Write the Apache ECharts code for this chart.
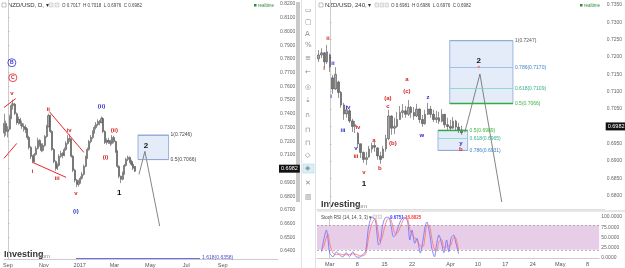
<!DOCTYPE html>
<html>
<head>
<meta charset="utf-8">
<script src="https://cdn.jsdelivr.net/npm/echarts@6/dist/echarts.min.js"></script>
<style>
  html, body { margin: 0; padding: 0; background: #fff; }
  #chart { width: 625px; height: 268px; }
</style>
</head>
<body>
<div id="chart"></div>
<script>
// daily chart: x = calendar days since 1 Sep 2016
const dailyDays = [-6,-3,0,3,6,9,12,15,18,21,24,27,30,33,36,39,42,45,48,51,54,57,60,63,66,69,72,75,78,81,84,87,90,93,96,99,102,105,108,111,114,117,120,123,126,129,132,135,138,141,144,147,150,153,156,159,162,165,168,171,174,177,180,183,186,189,192,195,198,201,204,207,210,213,216];
// [open, close, low, high]
const dailyOHLC = [
  [0.7260,0.7330,0.7230,0.7400],[0.7330,0.7271,0.7240,0.7350],[0.7271,0.7286,0.7228,0.7310],[0.7290,0.7373,0.7280,0.7390],
  [0.7373,0.7460,0.7360,0.7475],[0.7460,0.7474,0.7430,0.7503],[0.7470,0.7402,0.7390,0.7480],[0.7400,0.7336,0.7320,0.7410],
  [0.7336,0.7358,0.7320,0.7380],[0.7358,0.7329,0.7310,0.7370],[0.7330,0.7307,0.7290,0.7350],[0.7307,0.7300,0.7270,0.7330],
  [0.7300,0.7286,0.7260,0.7320],[0.7286,0.7228,0.7210,0.7295],[0.7228,0.7155,0.7140,0.7240],[0.7155,0.7090,0.7070,0.7165],
  [0.7090,0.7053,0.7040,0.7100],[0.7053,0.7104,0.7045,0.7115],[0.7104,0.7148,0.7095,0.7165],[0.7148,0.7206,0.7140,0.7225],
  [0.7206,0.7177,0.7160,0.7215],[0.7177,0.7133,0.7120,0.7185],[0.7133,0.7170,0.7125,0.7185],[0.7170,0.7235,0.7160,0.7245],
  [0.7235,0.7307,0.7225,0.7320],[0.7307,0.7387,0.7300,0.7400],[0.7387,0.7271,0.7260,0.7395],[0.7271,0.7140,0.7130,0.7280],
  [0.7140,0.7053,0.7040,0.7150],[0.7053,0.7003,0.6985,0.7060],[0.7003,0.7024,0.6990,0.7040],[0.7024,0.7090,0.7015,0.7105],
  [0.7090,0.7111,0.7080,0.7130],[0.7111,0.7097,0.7075,0.7120],[0.7097,0.7140,0.7090,0.7155],[0.7140,0.7184,0.7130,0.7200],
  [0.7184,0.7220,0.7175,0.7245],[0.7220,0.7213,0.7195,0.7250],[0.7213,0.7090,0.7080,0.7220],[0.7090,0.6988,0.6975,0.7100],
  [0.6988,0.6916,0.6900,0.7000],[0.6916,0.6886,0.6865,0.6925],[0.6886,0.6901,0.6870,0.6920],[0.6901,0.6930,0.6890,0.6945],
  [0.6930,0.6959,0.6920,0.6975],[0.6959,0.7017,0.6950,0.7030],[0.7017,0.7082,0.7010,0.7095],[0.7082,0.7140,0.7070,0.7155],
  [0.7140,0.7198,0.7130,0.7210],[0.7198,0.7228,0.7185,0.7245],[0.7228,0.7264,0.7215,0.7280],[0.7264,0.7300,0.7255,0.7315],
  [0.7300,0.7322,0.7285,0.7340],[0.7322,0.7344,0.7310,0.7360],[0.7344,0.7336,0.7315,0.7355],[0.7336,0.7365,0.7330,0.7380],
  [0.7365,0.7271,0.7260,0.7375],[0.7271,0.7191,0.7180,0.7280],[0.7191,0.7206,0.7175,0.7220],[0.7206,0.7198,0.7180,0.7225],
  [0.7198,0.7184,0.7165,0.7210],[0.7184,0.7228,0.7175,0.7245],[0.7228,0.7198,0.7185,0.7240],[0.7198,0.7126,0.7115,0.7205],
  [0.7126,0.7017,0.7005,0.7135],[0.7017,0.6944,0.6930,0.7025],[0.6944,0.6923,0.6895,0.6950],[0.6923,0.6966,0.6915,0.6980],
  [0.6966,0.7024,0.6955,0.7035],[0.7024,0.7068,0.7015,0.7080],[0.7068,0.7082,0.7055,0.7095],[0.7082,0.7053,0.7040,0.7090],
  [0.7053,0.7032,0.7020,0.7065],[0.7032,0.7003,0.6990,0.7040],[0.7017,0.6982,0.6976,0.7018]
];

// 4H chart: x = trading days since 1 Mar 2017
const h4Days = [-2,-1.5,-1,-0.5,0,0.5,1,1.5,2,2.5,3,3.5,4,4.5,5,5.5,6,6.5,7,7.5,8,8.5,9,9.5,10,10.5,11,11.5,12,12.5,13,13.5,14,14.5,15,15.5,16,16.5,17,17.5,18,18.5,19,19.5,20,20.5,21,21.5,22,22.5,23,23.5];
const h4OHLC = [
  [0.7195,0.7206,0.7186,0.7220],[0.7206,0.7212,0.7197,0.7225],[0.7212,0.7186,0.7169,0.7214],[0.7186,0.7215,0.7180,0.7235],
  [0.7206,0.7172,0.7157,0.7210],[0.7140,0.7108,0.7094,0.7148],[0.7108,0.7150,0.7105,0.7171],[0.7128,0.7098,0.7082,0.7132],
  [0.7098,0.7062,0.7054,0.7102],[0.7062,0.7036,0.7019,0.7068],[0.7036,0.7048,0.7025,0.7059],[0.7045,0.7016,0.7010,0.7050],
  [0.7016,0.7000,0.6984,0.7022],[0.7000,0.7005,0.6981,0.7016],[0.6980,0.6950,0.6938,0.6984],[0.6950,0.6925,0.6909,0.6950],
  [0.6925,0.6905,0.6895,0.6928],[0.6905,0.6910,0.6889,0.6927],[0.6912,0.6935,0.6910,0.6944],[0.6935,0.6945,0.6924,0.6953],
  [0.6945,0.6940,0.6927,0.6956],[0.6938,0.6915,0.6904,0.6940],[0.6915,0.6905,0.6892,0.6927],[0.6909,0.6935,0.6909,0.6944],
  [0.6935,0.6965,0.6927,0.6976],[0.6965,0.7030,0.6960,0.7048],[0.7030,0.6995,0.6976,0.7032],[0.6995,0.7000,0.6978,0.7025],
  [0.7000,0.7020,0.6996,0.7042],[0.7020,0.7040,0.7019,0.7059],[0.7040,0.7045,0.7025,0.7065],[0.7045,0.7035,0.7025,0.7059],
  [0.7035,0.7055,0.7030,0.7076],[0.7055,0.7040,0.7025,0.7059],[0.7040,0.7030,0.7019,0.7056],[0.7030,0.7050,0.7027,0.7065],
  [0.7050,0.7020,0.7010,0.7052],[0.7020,0.7008,0.6999,0.7033],[0.7008,0.7035,0.7005,0.7048],[0.7035,0.7050,0.7033,0.7068],
  [0.7050,0.7035,0.7025,0.7059],[0.7035,0.7020,0.7013,0.7048],[0.7020,0.7025,0.7010,0.7045],[0.7025,0.7015,0.7007,0.7042],
  [0.7015,0.7035,0.7012,0.7050],[0.7035,0.7005,0.6996,0.7036],[0.7005,0.7000,0.6990,0.7025],[0.7000,0.6995,0.6987,0.7019],
  [0.6995,0.7015,0.6993,0.7027],[0.7015,0.6998,0.6987,0.7019],[0.6998,0.6990,0.6981,0.7010],[0.6990,0.6982,0.6976,0.7002]
];

// Stoch RSI (14,14,3,3)
const stochDays = [-1.5,-1.1,-0.6,-0.3,0,0.6,1.2,1.8,2.4,3.0,3.6,4.2,4.8,5.4,5.9,6.5,6.8,7.1,7.7,8.3,8.6,8.9,9.2,9.6,10.1,10.7,11.2,11.6,12.0,12.5,13.1,13.7,14.2,14.6,15.0,15.5,15.9,16.5,17.0,17.4,17.7,18.2,18.6,19.1,19.5,19.9,20.4,20.8,21.3,21.7,22.1,22.6,23.0,23.5];
const stochK = [15,44,68,44,12,3,15,7,3,13,3,15,3,2,7,15,44,77,100,92,60,32,36,77,98,100,77,52,56,77,95,100,88,44,68,36,48,12,44,78,88,60,24,3,36,56,34,13,44,15,48,56,36,10];
const stochD = [20,28,52,58,35,12,8,10,8,8,9,10,9,6,5,9,25,52,84,96,82,55,40,52,80,97,92,70,58,64,84,97,95,70,56,50,42,30,28,55,80,78,48,20,18,40,45,25,28,30,32,50,48,17];

// tick labels
const dailyTickDays = [0,61,122,181,242,303,365];
const dailyTickLabels = ['Sep','Nov','2017','Mar','May','Jul','Sep'];
const h4TickDays = [0,5,10,15,22,27,32,37,42,47];
const h4TickLabels = ['Mar','8','15','22','Apr','10','17','24','May','8'];
const dailyPriceTicks = [0.64,0.65,0.66,0.67,0.68,0.69,0.70,0.71,0.72,0.73,0.74,0.75,0.76,0.77,0.78,0.79,0.80,0.81,0.82];
const h4PriceTicks = [0.68,0.685,0.69,0.695,0.70,0.705,0.71,0.715,0.72,0.725,0.73,0.735];
const stochTicks = [0,25,50,75,100];
const lastPrice = 0.6982;

// wave annotations [x, price, text]
const dailyRedLabels = [[6.7,0.7547,'v'],[68.7,0.7431,'ii'],[41.9,0.6981,'i'],[83.8,0.6930,'iii'],[103.9,0.7278,'iv'],[115.6,0.6821,'v'],[180.9,0.7278,'(ii)'],[165.8,0.7082,'(i)']];
const dailyBlueLabels = [[115.6,0.6691,'(i)'],[159.1,0.7452,'(ii)']];
const dailyBlackLabels = [[189.3,0.6821,'1'],[234.5,0.7170,'2']];
const dailyTrendLines = [
  [[-6.7,0.7445],[13.4,0.7511]],
  [[-6.7,0.7075],[15.1,0.7184]],
  [[70.4,0.7416],[129,0.7119]],
  [[41.9,0.7046],[98.8,0.6937]]
];
const dailyProjection = [[222.8,0.6959],[232.8,0.7126],[257.9,0.6582]];

const h4RedLabels = [[-0.36,0.7255,'ii'],[-1.07,0.7168,'i'],[5,0.6996,'iv'],[4.64,0.6915,'iii'],[6.07,0.6869,'v'],[7.86,0.6961,'a'],[8.93,0.6878,'b'],[10.36,0.7082,'(a)'],[10.36,0.7059,'c'],[11.25,0.6950,'(b)'],[13.75,0.7137,'a'],[13.75,0.7102,'(c)'],[23.4,0.6935,'b']];
const h4BlueLabels = [[0.54,0.7183,'ii'],[0.18,0.7088,'i'],[3.21,0.7056,'iv'],[2.32,0.6990,'iii'],[4.64,0.6938,'v'],[17.5,0.7085,'z'],[16.43,0.6973,'w'],[23.4,0.6950,'y']];
const h4BlackLabels = [[6.07,0.6835,'1'],[26.6,0.7189,'2']];
const h4Projection = [[24.1,0.6983],[26.8,0.7151],[30.7,0.6782]];

const FONT = 'Liberation Sans, Arial, sans-serif';
const chart = echarts.init(document.getElementById('chart'));

function waveLabels(xi, data, color, size, weight) {
  return {
    type: 'scatter', xAxisIndex: xi, yAxisIndex: xi, symbolSize: 0, silent: true, z: 5,
    data: data, itemStyle: { opacity: 1 },
    label: { show: true, position: 'inside', opacity: 1, formatter: p => p.data[2], color: color, fontSize: size, fontWeight: weight, fontFamily: FONT }
  };
}
function circled(data, color) {
  return {
    type: 'scatter', xAxisIndex: 0, yAxisIndex: 0, symbolSize: 0, silent: true, z: 5,
    data: data, itemStyle: { opacity: 1 },
    label: { show: true, position: 'inside', opacity: 1, formatter: p => p.data[2], color: color, fontSize: 5, fontWeight: 'bold',
      borderColor: color, borderWidth: 0.8, borderRadius: 5, width: 6, height: 6, lineHeight: 6, align: 'center', padding: [1, 1] }
  };
}
function fib(x1, x2, y, text, color, width, labelColor) {
  return [
    { coord: [x1, y], lineStyle: { color: color, width: width, type: 'solid' },
      label: { show: !!text, position: 'end', formatter: text, color: labelColor || color, fontSize: 5, distance: 2, fontFamily: FONT } },
    { coord: [x2, y] }
  ];
}
const priceMark = {
  silent: true, symbol: 'none',
  data: [{ yAxis: lastPrice, lineStyle: { color: 'rgba(0,0,0,0)', width: 0 },
    label: { position: 'end', formatter: lastPrice.toFixed(4), backgroundColor: '#111', color: '#fff', fontSize: 5.5, padding: [1, 2], distance: 1, fontFamily: FONT } }]
};
const candleStyle = { color: '#a8a8a8', color0: '#767676', borderColor: '#4e4e4e', borderColor0: '#4e4e4e', borderWidth: 0.6 };
const axisText = { color: '#666', fontSize: 5, fontFamily: FONT };

const option = {
  animation: false,
  backgroundColor: '#fff',
  grid: [
    { left: 0, top: 0, width: 278, height: 260 },
    { left: 317, top: 0, width: 288, height: 209 },
    { left: 317, top: 217, width: 288, height: 41 }
  ],
  xAxis: [
    { type: 'value', gridIndex: 0, min: -6.7, max: 459, splitLine: { show: false },
      axisLine: { lineStyle: { color: '#ccc' } }, axisTick: { show: false },
      axisLabel: { ...axisText, fontSize: 5.5, color: '#555', margin: 3, customValues: dailyTickDays,
        formatter: v => dailyTickLabels[dailyTickDays.indexOf(v)] } },
    { type: 'value', gridIndex: 1, min: -2.32, max: 49.1, splitLine: { show: false },
      axisLine: { lineStyle: { color: '#ddd' } }, axisTick: { show: false }, axisLabel: { show: false } },
    { type: 'value', gridIndex: 2, min: -2.32, max: 49.1, splitLine: { show: false },
      axisLine: { lineStyle: { color: '#ccc' } }, axisTick: { show: false },
      axisLabel: { ...axisText, fontSize: 5.5, color: '#555', margin: 3, customValues: h4TickDays,
        formatter: v => h4TickLabels[h4TickDays.indexOf(v)] } }
  ],
  yAxis: [
    { type: 'value', gridIndex: 0, position: 'right', min: 0.6342, max: 0.8229, splitLine: { show: false },
      axisLine: { show: true, lineStyle: { color: '#ccc' } }, axisTick: { show: true, length: 1.5, customValues: dailyPriceTicks, lineStyle: { color: '#bbb' } },
      axisLabel: { ...axisText, margin: 2, customValues: dailyPriceTicks, formatter: v => v.toFixed(4) } },
    { type: 'value', gridIndex: 1, position: 'right', min: 0.6762, max: 0.73644, splitLine: { show: false },
      axisLine: { show: true, lineStyle: { color: '#ccc' } }, axisTick: { show: true, length: 1.5, customValues: h4PriceTicks, lineStyle: { color: '#bbb' } },
      axisLabel: { ...axisText, margin: 2, customValues: h4PriceTicks, formatter: v => v.toFixed(4) } },
    { type: 'value', gridIndex: 2, position: 'right', min: 0, max: 100, splitLine: { show: false },
      axisLine: { show: true, lineStyle: { color: '#ccc' } }, axisTick: { show: true, length: 1.5, customValues: stochTicks, lineStyle: { color: '#bbb' } },
      axisLabel: { ...axisText, margin: 2, customValues: stochTicks, formatter: v => v.toFixed(4) } }
  ],
  series: [
    // ---- daily chart ----
    { type: 'line', xAxisIndex: 0, yAxisIndex: 0, data: dailyProjection, symbol: 'none', z: 4,
      lineStyle: { color: '#666', width: 0.8 },
      markArea: { silent: true, data: [[{ coord: [221.1, 0.7246], itemStyle: { color: '#e3ecf8', borderColor: '#8ea3d3', borderWidth: 0.8 } }, { coord: [273, 0.7066] }]] },
      markLine: { silent: true, symbol: 'none', data: [
        fib(221.1, 273, 0.7246, '1(0.7246)', '#8ea3d3', 0.8, '#444'),
        fib(221.1, 273, 0.7066, '0.5(0.7066)', '#8ea3d3', 0.8, '#444'),
        fib(115.6, 326.6, 0.6349, '1.618(0.6358)', '#6f6fe0', 1, '#4a4ad8')
      ] } },
    { type: 'lines', coordinateSystem: 'cartesian2d', xAxisIndex: 0, yAxisIndex: 0, silent: true, z: 3,
      data: dailyTrendLines.map(c => ({ coords: c })), lineStyle: { color: '#e8262a', width: 1, opacity: 1 } },
    { type: 'candlestick', xAxisIndex: 0, yAxisIndex: 0, barWidth: 1.6, z: 2,
      data: dailyDays.map((d, i) => [d].concat(dailyOHLC[i])), encode: { x: 0, y: [1, 2, 3, 4] },
      itemStyle: candleStyle, markLine: priceMark },
    waveLabels(0, dailyRedLabels, '#d81f1f', 6, 'bold'),
    waveLabels(0, dailyBlueLabels, '#2b2bd0', 6, 'bold'),
    waveLabels(0, dailyBlackLabels, '#111', 8, 'bold'),
    circled([[6.7, 0.7772, 'B']], '#2b2bd0'),
    circled([[8.4, 0.7663, 'C']], '#d81f1f'),

    // ---- 4H chart ----
    { type: 'line', xAxisIndex: 1, yAxisIndex: 1, data: h4Projection, symbol: 'none', z: 4,
      lineStyle: { color: '#666', width: 0.8 },
      markArea: { silent: true, data: [
        [{ coord: [21.4, 0.7247], itemStyle: { color: '#e3ecf8', borderColor: '#8ea3d3', borderWidth: 0.8 } }, { coord: [32.7, 0.7066] }],
        [{ coord: [19.3, 0.6989], itemStyle: { color: '#e3ecf8', borderColor: '#8ea3d3', borderWidth: 0.8 } }, { coord: [24.6, 0.6931] }]
      ] },
      markLine: { silent: true, symbol: 'none', data: [
        fib(21.4, 32.7, 0.7247, '1(0.7247)', '#8ea3d3', 0.8, '#555'),
        fib(21.4, 32.7, 0.7170, '0.786(0.7170)', '#8fb8e4', 0.8, '#3d85c6'),
        fib(21.4, 32.7, 0.7109, '0.618(0.7109)', '#7fd6bb', 0.8, '#33b08a'),
        fib(21.4, 32.7, 0.7066, '0.5(0.7066)', '#37a846', 1.4, '#3cb33c'),
        fib(19.3, 24.6, 0.6989, '0.5(0.6989)', '#37a846', 1.4, '#3cb33c'),
        fib(19.3, 24.6, 0.6965, '0.618(0.6965)', '#7fd6bb', 0.8, '#33b08a'),
        fib(19.3, 24.6, 0.6931, '0.786(0.6931)', '#8ea3d3', 0.8, '#3d85c6')
      ] } },
    { type: 'candlestick', xAxisIndex: 1, yAxisIndex: 1, barWidth: 2.1, z: 2,
      data: h4Days.map((d, i) => [d].concat(h4OHLC[i])), encode: { x: 0, y: [1, 2, 3, 4] },
      itemStyle: candleStyle, markLine: priceMark },
    waveLabels(1, h4RedLabels, '#d81f1f', 6, 'bold'),
    waveLabels(1, h4BlueLabels, '#2b2bd0', 6, 'bold'),
    waveLabels(1, h4BlackLabels, '#111', 8, 'bold'),
    { type: 'scatter', xAxisIndex: 1, yAxisIndex: 1, symbolSize: 2.5, silent: true, z: 6,
      data: [[26.6, 0.7171]], itemStyle: { color: '#e88a8a', opacity: 1 } },

    // ---- Stoch RSI ----
    { type: 'line', xAxisIndex: 2, yAxisIndex: 2, data: [], symbol: 'none',
      markArea: { silent: true, data: [[{ yAxis: 80, itemStyle: { color: '#e8cde8' } }, { yAxis: 20 }]] },
      markLine: { silent: true, symbol: 'none', label: { show: false },
        lineStyle: { color: '#888', type: [2, 2], width: 0.6 }, data: [{ yAxis: 80 }, { yAxis: 20 }] } },
    { type: 'line', xAxisIndex: 2, yAxisIndex: 2, symbol: 'none', smooth: 0.3,
      data: stochDays.map((d, i) => [d, stochK[i]]), lineStyle: { color: '#6a6aff', width: 0.8 } },
    { type: 'line', xAxisIndex: 2, yAxisIndex: 2, symbol: 'none', smooth: 0.3,
      data: stochDays.map((d, i) => [d, stochD[i]]), lineStyle: { color: '#ff6d6d', width: 0.8 } }
  ],
  graphic: [
    // headers
    { type: 'rect', shape: { x: 2, y: 3, width: 4, height: 4 }, style: { fill: 'none', stroke: '#999', lineWidth: 0.6 } },
    { type: 'text', x: 8, y: 2.5, style: { text: 'NZD/USD, D, ▾', fontSize: 6, fill: '#333', fontFamily: FONT } },
    { type: 'rect', shape: { x: 49, y: 3, width: 4, height: 4 }, style: { fill: '#eee', stroke: '#bbb', lineWidth: 0.5 } },
    { type: 'rect', shape: { x: 55, y: 3, width: 4, height: 4 }, style: { fill: '#eee', stroke: '#bbb', lineWidth: 0.5 } },
    { type: 'text', x: 62, y: 3.5, style: { text: 'O 0.7017  H 0.7018  L 0.6976  C 0.6982', fontSize: 4.5, fill: '#444', fontFamily: FONT } },
    { type: 'rect', shape: { x: 254, y: 4, width: 2.5, height: 2.5 }, style: { fill: '#2e8b3e' } },
    { type: 'text', x: 258, y: 3, style: { text: 'realtime', fontSize: 4.5, fill: '#2e8b3e', fontFamily: FONT } },

    { type: 'rect', shape: { x: 319, y: 3, width: 4, height: 4 }, style: { fill: 'none', stroke: '#999', lineWidth: 0.6 } },
    { type: 'text', x: 325, y: 2.5, style: { text: 'NZD/USD, 240, ▾', fontSize: 6, fill: '#333', fontFamily: FONT } },
    { type: 'rect', shape: { x: 375, y: 3, width: 3.5, height: 4 }, style: { fill: '#eee', stroke: '#bbb', lineWidth: 0.5 } },
    { type: 'rect', shape: { x: 380, y: 3, width: 3.5, height: 4 }, style: { fill: '#eee', stroke: '#bbb', lineWidth: 0.5 } },
    { type: 'rect', shape: { x: 385, y: 3, width: 3.5, height: 4 }, style: { fill: '#eee', stroke: '#bbb', lineWidth: 0.5 } },
    { type: 'text', x: 391, y: 3.5, style: { text: 'O 0.6981  H 0.6986  L 0.6976  C 0.6982', fontSize: 4.5, fill: '#444', fontFamily: FONT } },
    { type: 'rect', shape: { x: 580, y: 4, width: 2.5, height: 2.5 }, style: { fill: '#2e8b3e' } },
    { type: 'text', x: 584, y: 3, style: { text: 'realtime', fontSize: 4.5, fill: '#2e8b3e', fontFamily: FONT } },

    // logos
    { type: 'text', x: 4, y: 250, style: { text: 'Investing', fontSize: 9, fontWeight: 'bold', fill: '#333', fontFamily: FONT } },
    { type: 'text', x: 37, y: 253, style: { text: '.com', fontSize: 6, fill: '#888', fontFamily: FONT } },
    { type: 'text', x: 321, y: 200, style: { text: 'Investing', fontSize: 9, fontWeight: 'bold', fill: '#333', fontFamily: FONT } },
    { type: 'text', x: 354, y: 203, style: { text: '.com', fontSize: 6, fill: '#888', fontFamily: FONT } },

    // stoch header
    { type: 'text', x: 321, y: 215, style: { text: 'Stoch RSI (14, 14, 3, 3) ▾', fontSize: 4.5, fill: '#444', fontFamily: FONT } },
    { type: 'rect', shape: { x: 373, y: 215, width: 3.5, height: 3.5 }, style: { fill: '#eee', stroke: '#bbb', lineWidth: 0.5 } },
    { type: 'rect', shape: { x: 378, y: 215, width: 3.5, height: 3.5 }, style: { fill: '#eee', stroke: '#bbb', lineWidth: 0.5 } },
    { type: 'text', x: 390, y: 215, style: { text: '9.6751', fontSize: 4.5, fontWeight: 'bold', fill: '#3b3bff', fontFamily: FONT } },
    { type: 'text', x: 405, y: 215, style: { text: '16.8825', fontSize: 4.5, fontWeight: 'bold', fill: '#ff3b3b', fontFamily: FONT } },
    { type: 'line', shape: { x1: 317, y1: 211, x2: 625, y2: 211 }, style: { stroke: '#cfcfcf', lineWidth: 1 } },

    // scrollbar and toolbar between the charts
    { type: 'rect', shape: { x: 296, y: 2, width: 4, height: 200 }, style: { fill: '#c9c9c9' } },
    { type: 'line', shape: { x1: 301.5, y1: 0, x2: 301.5, y2: 268 }, style: { stroke: '#e2e2e2', lineWidth: 1 } },
    { type: 'line', shape: { x1: 315.5, y1: 0, x2: 315.5, y2: 268 }, style: { stroke: '#e2e2e2', lineWidth: 1 } },
    { type: 'rect', shape: { x: 303, y: 164, width: 11, height: 9 }, style: { fill: '#d8f1f8', stroke: '#9fd6e8', lineWidth: 0.5 } },
    { type: 'group', children: [
      ['▭', 7], ['▢', 19], ['A', 31], ['%', 42], ['≡', 55], ['←', 69], ['◎', 84], ['⇣', 97], ['∩', 112], ['⊓', 127], ['⊓', 140], ['◇', 152], ['◈', 165], ['✕', 180], ['▥', 194]
    ].map(g => ({ type: 'text', x: 305, y: g[1], style: { text: g[0], fontSize: 7, fill: '#8a8a8a', fontFamily: 'DejaVu Sans' } })) }
  ]
};
chart.setOption(option);
</script>
</body>
</html>
